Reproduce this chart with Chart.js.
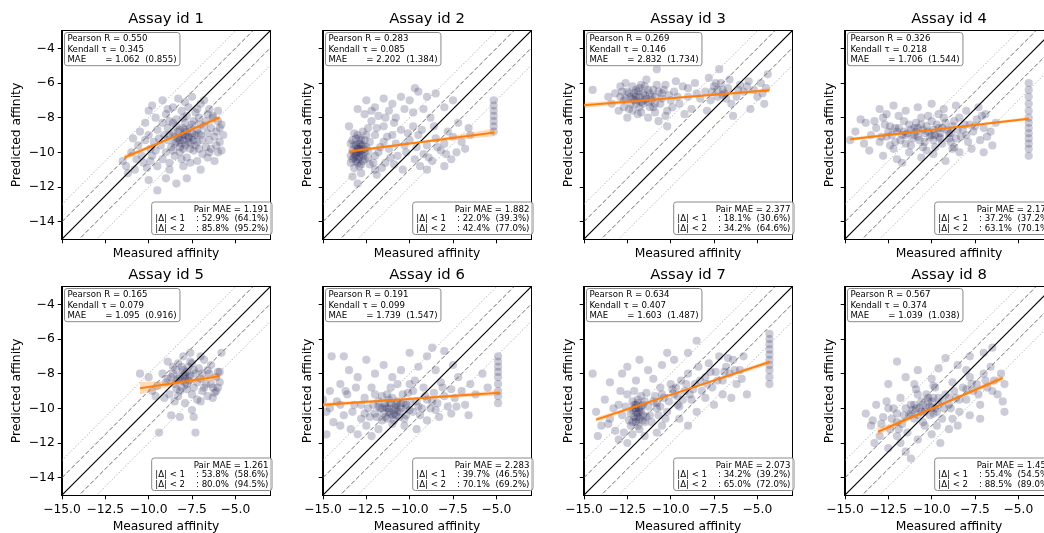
<!DOCTYPE html>
<html>
<head>
<meta charset="utf-8">
<script src="https://cdn.jsdelivr.net/npm/chart.js@4.4.1/dist/chart.umd.min.js"></script>
<style>
html,body{margin:0;padding:0;background:#fff;overflow:hidden;width:1044px;height:533px;position:relative}
canvas.cell{position:absolute}
</style>
</head>
<body>
<script>
// ── data ─────────────────────────────────────────────
const assayIds=[1,2,3,4,5,6,7,8];
const pearsonR=[0.550,0.283,0.269,0.326,0.165,0.191,0.634,0.567];
const kendallT=[0.345,0.085,0.146,0.218,0.079,0.099,0.407,0.374];
const maeVal=[1.062,2.202,2.832,1.706,1.095,1.739,1.603,1.039];
const maeAlt=[0.855,1.384,1.734,1.544,0.916,1.547,1.487,1.038];
const pairMae=[1.191,1.882,2.377,2.174,1.261,2.283,2.073,1.454];
const within1=[52.9,22.0,18.1,37.2,53.8,39.7,34.2,55.4];
const within1Alt=[64.1,39.3,30.6,37.2,58.6,46.5,39.2,54.5];
const within2=[85.8,42.4,34.2,63.1,80.0,70.1,65.0,88.5];
const within2Alt=[95.2,77.0,64.6,70.1,94.5,69.2,72.0,89.0];

const xTicks=[-15,-12.5,-10,-7.5,-5];
const yTicks=[-14,-12,-10,-8,-6,-4];
const axMin=-15, axMax=-3;
const diagX=[-15,-3];
const diagOffsets=[-2,-1,0,1,2];

// regression fit ends and confidence half-width (start, middle, end)
const regX=[[-11.4,-5.9],[-13.5,-5.1],[-15,-4.3],[-14.7,-4.4],[-10.5,-5.9],[-15,-4.8],[-14.3,-4.3],[-13.1,-5.9]];
const regY=[[-10.3,-8.0],[-9.95,-8.85],[-7.28,-6.42],[-9.25,-8.06],[-8.84,-8.15],[-9.8,-9.1],[-10.65,-7.33],[-11.35,-8.25]];
const bandW=[[0.16,0.05,0.16],[0.12,0.05,0.22],[0.16,0.05,0.12],[0.1,0.04,0.1],[0.36,0.1,0.2],[0.12,0.04,0.16],[0.14,0.04,0.14],[0.2,0.05,0.18]];

const pts1=[[-8.0,-9.0],[-7.8,-8.8],[-8.3,-9.2],[-7.5,-9.1],[-8.6,-8.9],[-7.2,-8.7],[-8.1,-9.5],[-7.7,-9.4],[-8.9,-9.3],[-7.0,-9.0],
[-8.4,-8.5],[-7.9,-8.3],[-6.8,-8.5],[-7.4,-8.2],[-8.7,-9.7],[-7.6,-9.8],[-8.2,-10.0],[-7.3,-9.6],[-6.9,-9.3],[-9.1,-9.0],
[-6.6,-8.9],[-8.0,-8.0],[-7.1,-8.0],[-9.3,-9.6],[-8.5,-10.2],[-7.8,-10.3],[-6.7,-9.7],[-6.4,-8.6],[-6.2,-9.1],[-9.5,-8.7],
[-9.2,-7.0],[-8.6,-7.4],[-7.5,-6.8],[-7.0,-7.2],[-6.5,-7.5],[-8.1,-7.6],[-9.0,-7.8],[-7.7,-7.4],[-6.3,-7.9],[-6.0,-8.2],
[-8.8,-8.2],[-9.6,-8.0],[-10.0,-7.6],[-6.8,-7.0],[-5.9,-8.6],[-7.3,-7.7],[-10.2,-8.3],
[-9.8,-10.2],[-10.3,-10.6],[-9.5,-10.8],[-8.8,-11.0],[-8.0,-10.8],[-7.2,-10.5],[-6.6,-10.3],[-6.0,-10.0],[-9.0,-11.5],
[-9.5,-12.2],[-7.8,-11.5],[-10.8,-11.0],[-11.2,-11.2],[-8.4,-11.8],[-10.0,-11.6],[-7.0,-11.0],[-9.2,-10.4],
[-11.5,-10.5],[-11.0,-10.0],[-10.6,-9.6],[-10.9,-9.2],[-10.4,-10.2],[-11.3,-10.8],[-10.2,-9.3],[-10.5,-8.8],[-9.9,-9.8],[-10.1,-10.9],
[-5.8,-8.4],[-5.7,-9.0],[-6.1,-9.6],[-6.3,-8.0],[-5.9,-9.4],[-6.0,-7.6],[-6.5,-10.0],[-6.2,-10.5],
[-8.1,-9.1],[-7.6,-8.6],[-8.4,-9.4],[-7.9,-9.0],[-8.8,-9.0],[-7.4,-9.3],[-8.2,-8.7],[-7.9,-9.6],
[-8.5,-9.1],[-8.0,-9.3],[-7.5,-8.9],[-7.2,-9.4],[-8.3,-8.8],[-7.7,-9.1],[-8.9,-8.6],[-7.0,-8.4],[-6.7,-8.2],[-8.6,-9.9],
[-7.4,-9.9],[-8.1,-10.4],[-9.0,-10.0],[-9.4,-9.2],[-6.5,-9.3],[-7.8,-7.9],[-8.4,-8.1],[-7.2,-7.5],[-9.7,-9.4],[-6.9,-10.1],
[-8.9,-7.5],[-7.5,-8.4],[-8.6,-8.3],[-8.0,-8.6],[-6.4,-9.8],[-9.2,-8.3],[-7.6,-10.6],[-8.8,-10.6],[-9.9,-10.5],[-6.1,-8.8],
[-7.1,-9.8],[-8.2,-9.7],[-9.6,-9.9],[-10.7,-10.4],[-10.0,-9.0],[-5.8,-9.9],[-6.6,-7.8],[-7.9,-7.1],[-8.3,-6.9],[-9.8,-7.3],
[-7.7,-9.2],[-8.2,-9.3],[-7.3,-9.0],[-7.9,-8.7],[-8.5,-9.5],[-7.6,-9.5],[-8.0,-9.8],[-7.1,-8.9]];
const pts2=[[-13.0,-9.8],[-12.8,-10.1],[-13.2,-10.3],[-12.9,-9.5],[-12.6,-10.0],[-13.3,-9.9],[-12.7,-10.5],[-13.1,-9.2],[-12.5,-9.7],[-13.4,-10.6],
[-12.9,-10.8],[-12.4,-10.3],[-13.0,-9.0],[-12.6,-9.3],[-13.2,-10.9],[-12.8,-11.2],[-13.4,-9.5],[-12.3,-10.7],[-12.7,-8.8],[-13.0,-10.0],
[-12.8,-9.9],[-13.1,-10.5],
[-13.5,-8.5],[-13.3,-11.4],[-12.0,-9.0],[-11.8,-10.0],[-12.1,-10.6],[-11.5,-9.4],[-11.9,-11.3],[-13.0,-11.8],[-12.2,-8.2],
[-13.0,-7.5],[-12.5,-7.0],[-12.0,-7.4],[-11.5,-6.9],[-11.0,-7.2],[-10.5,-6.8],[-10.0,-7.0],[-9.5,-6.5],[-9.0,-6.8],[-8.5,-6.6],
[-11.8,-7.9],[-10.8,-8.0],[-9.8,-7.7],[-9.2,-7.5],[-8.8,-8.0],[-12.6,-7.8],[-8.0,-7.4],[-7.5,-7.0],[-9.7,-6.3],[-11.2,-7.6],
[-11.5,-8.5],[-11.0,-9.0],[-10.5,-8.7],[-10.0,-9.3],[-9.5,-9.0],[-9.0,-9.6],[-8.5,-9.2],[-8.0,-9.5],[-7.5,-9.1],[-11.2,-9.8],
[-10.7,-10.2],[-10.2,-10.0],[-9.7,-10.4],[-9.2,-10.1],[-8.7,-10.5],[-8.2,-9.9],[-11.4,-10.6],[-10.4,-11.0],[-9.0,-11.0],[-8.0,-10.8],
[-10.9,-8.3],[-9.8,-8.5],[-8.6,-8.5],[-7.8,-8.8],
[-7.0,-9.4],[-6.8,-9.8],[-7.3,-10.0],[-6.6,-8.6],[-7.2,-8.3],[-6.5,-9.0],[-7.6,-10.4],
[-5.15,-7.0],[-5.15,-7.3],[-5.15,-7.6],[-5.15,-7.9],[-5.15,-8.2],[-5.15,-8.5],[-5.15,-8.8],
[-13.1,-9.6],[-12.9,-10.3],[-12.7,-9.6],[-13.2,-10.1],[-12.8,-10.7],[-13.0,-10.4],[-12.6,-10.4],[-13.3,-9.3],[-12.5,-9.0],[-13.2,-8.9],
[-12.9,-9.2],[-12.4,-9.9],[-12.3,-9.4],[-12.0,-10.2],[-11.7,-9.7],[-11.6,-10.9],[-11.3,-9.1],[-11.1,-10.3],[-10.8,-9.5],[-10.3,-9.6],
[-10.1,-8.9],[-9.6,-9.7],[-9.3,-8.7],[-8.9,-10.3],[-8.4,-9.7],[-7.9,-10.1],[-11.9,-8.6],[-12.4,-8.6],[-13.4,-10.2],[-12.0,-11.0],
[-10.9,-10.7],[-9.4,-10.8],[-11.4,-8.0],[-10.3,-7.5],[-12.2,-7.6],
[-13.0,-9.7],[-12.8,-9.6],[-13.1,-10.0],[-12.9,-10.0],[-12.7,-10.2],[-13.2,-9.6],[-12.8,-9.3],[-13.0,-10.6],[-12.6,-9.8],[-13.3,-10.4],
[-12.9,-9.8],[-13.1,-10.2]];
const pts3=[[-14.5,-6.4],[-12.8,-6.5],[-12.6,-6.0],[-12.3,-6.8],[-12.0,-7.2],[-12.4,-7.5],[-11.8,-6.3],[-11.5,-7.0],[-11.2,-6.6],[-11.0,-7.4],
[-10.8,-6.1],[-10.5,-6.9],[-10.2,-7.6],[-12.1,-6.6],[-11.7,-7.7],[-11.3,-8.0],[-10.9,-6.8],[-10.6,-7.2],[-12.7,-7.0],[-12.2,-6.2],
[-11.9,-7.0],[-11.6,-6.6],[-11.1,-7.0],[-10.4,-6.4],[-10.0,-7.0],[-9.8,-6.5],[-9.5,-7.2],[-9.3,-6.2],[-9.0,-6.8],[-8.8,-7.5],
[-10.2,-8.5],[-10.7,-8.2],[-12.5,-8.0],[-13.0,-7.6],[-11.4,-5.8],[-10.8,-5.2],[-9.7,-5.9],[-12.9,-6.2],[-11.0,-6.4],[-11.8,-7.4],
[-10.3,-7.9],[-9.2,-7.8],[-12.3,-7.2],[-11.5,-6.2],[-12.0,-6.8],
[-8.0,-6.5],[-7.8,-5.7],[-7.5,-6.2],[-7.3,-6.8],[-7.1,-6.0],[-6.9,-6.6],[-6.7,-6.3],[-6.5,-7.2],[-7.7,-7.0],[-8.3,-6.9],
[-6.2,-6.8],[-6.0,-6.1],[-5.8,-6.5],[-5.5,-5.9],[-5.2,-6.4],[-5.0,-6.8],[-4.8,-6.0],[-4.5,-6.3],[-4.4,-5.5],[-4.6,-7.2],
[-5.4,-7.5],[-6.4,-7.9],[-7.9,-7.6],[-8.6,-6.0],[-6.6,-5.8],[-7.2,-5.2],
[-12.4,-6.6],[-12.1,-7.0],[-11.8,-6.8],[-11.6,-7.2],[-11.3,-6.4],[-11.1,-6.8],[-10.9,-7.2],[-10.7,-6.5],[-12.6,-6.9],[-12.0,-6.4],
[-11.4,-6.9],[-11.2,-7.4],[-12.2,-7.6],[-10.5,-6.6],[-10.1,-6.7],[-9.6,-6.8],[-9.9,-7.4],[-12.9,-6.8],[-13.2,-6.6],[-11.7,-6.1],
[-10.3,-6.1],[-9.0,-6.3],[-8.5,-6.6],[-7.6,-6.5],[-7.0,-6.4],[-6.8,-6.9],[-7.4,-6.0],[-5.6,-6.2],[-4.7,-6.6],[-6.1,-6.4],
[-12.7,-7.4],[-11.9,-7.8],[-10.9,-7.7],[-13.6,-6.8],[-13.4,-7.2],
[-12.2,-6.9],[-11.9,-6.5],[-11.5,-6.7],[-11.7,-7.1],[-12.5,-6.5],[-11.3,-7.1],[-7.3,-6.4],[-7.0,-6.7]];
const pts4=[[-14.7,-9.3],[-14.4,-8.8],[-13.8,-8.3],[-13.5,-9.0],[-13.2,-8.6],[-13.0,-9.4],[-12.8,-8.0],[-12.6,-9.1],[-12.4,-8.5],[-12.2,-9.8],
[-12.0,-8.8],[-11.8,-9.3],[-11.6,-8.2],[-11.4,-8.9],[-11.2,-9.6],[-11.0,-8.6],[-10.8,-9.1],[-10.6,-8.4],[-10.4,-9.4],[-10.2,-8.8],
[-10.0,-8.2],[-9.8,-9.0],[-9.6,-8.6],[-9.4,-9.5],[-9.2,-8.3],[-9.0,-8.9],[-8.8,-8.5],[-8.6,-9.2],[-8.4,-8.0],[-8.2,-8.7],
[-8.0,-9.0],[-7.8,-8.4],[-7.6,-8.8],[-7.4,-8.1],[-7.2,-9.3],[-7.0,-8.6],
[-13.0,-7.5],[-12.2,-7.3],[-11.5,-7.6],[-10.8,-7.4],[-10.0,-7.2],[-9.3,-7.5],[-8.6,-7.3],[-8.0,-7.6],[-7.3,-7.4],[-6.9,-7.8],
[-12.6,-7.8],[-9.6,-7.8],
[-13.6,-9.9],[-12.8,-10.2],[-12.0,-10.4],[-11.3,-10.0],[-10.6,-10.3],[-9.9,-10.1],[-9.2,-10.5],[-8.4,-10.0],[-7.7,-9.8],[-11.7,-10.6],
[-10.3,-9.9],[-8.8,-9.8],[-7.0,-10.0],[-6.5,-9.6],[-6.8,-9.1],[-6.3,-8.3],
[-11.0,-9.0],[-10.5,-8.7],[-9.5,-8.9],[-10.9,-8.3],[-11.5,-9.0],[-9.9,-9.3],[-12.3,-9.0],[-9.0,-9.2],[-8.5,-8.7],
[-4.4,-6.0],[-4.4,-6.4],[-4.4,-6.8],[-4.4,-7.2],[-4.4,-7.6],[-4.4,-8.0],[-4.4,-8.3],[-4.4,-8.6],[-4.4,-8.9],[-4.4,-9.2],
[-4.4,-9.5],[-4.4,-9.8],[-4.4,-10.2],
[-11.9,-8.6],[-11.7,-9.0],[-11.3,-8.4],[-11.1,-9.2],[-10.9,-8.8],[-10.7,-9.3],[-10.3,-8.5],[-10.1,-9.1],[-9.7,-8.4],[-9.5,-9.2],
[-9.1,-8.7],[-8.9,-9.4],[-8.7,-8.2],[-8.3,-9.1],[-8.1,-8.4],[-12.5,-8.8],[-12.9,-9.1],[-13.3,-8.2],[-12.1,-9.4],[-10.5,-9.7],
[-9.3,-8.0],[-7.9,-9.4],[-7.5,-8.5],[-12.7,-8.4],[-13.9,-9.5],[-14.1,-8.1],[-11.9,-7.9],[-10.2,-7.9],[-7.1,-7.9],[-9.8,-9.7],
[-12.4,-9.6],[-6.6,-8.8],[-11.5,-9.5],[-10.6,-8.0],[-8.7,-9.7],
[-11.2,-8.7],[-10.8,-8.6],[-10.4,-8.9],[-9.9,-8.7],[-9.4,-8.6],[-11.6,-8.8],[-12.1,-8.6],[-10.0,-9.0],[-9.6,-9.1],[-8.9,-8.9]];
const pts5=[[-10.5,-8.0],[-10.0,-8.2],[-9.6,-9.3],[-9.4,-11.4],[-9.0,-8.5],[-8.9,-7.3],[-8.8,-9.2],[-8.6,-8.0],[-8.5,-8.6],[-8.4,-7.8],
[-8.3,-8.3],[-8.2,-9.0],[-8.1,-7.6],[-8.0,-8.1],[-7.9,-8.5],[-7.8,-7.9],[-7.7,-8.4],[-7.6,-6.8],[-7.5,-7.4],[-7.4,-8.8],
[-7.3,-8.0],[-7.2,-9.5],[-7.1,-7.7],[-7.0,-8.3],[-6.9,-9.0],[-6.8,-7.2],[-6.7,-8.6],[-6.6,-9.3],[-6.5,-8.0],[-6.4,-7.5],
[-6.3,-8.8],[-6.2,-9.1],[-6.1,-8.2],[-6.0,-7.9],[-5.9,-8.5],[-5.8,-6.8],[-8.7,-10.4],[-8.2,-10.5],[-7.9,-9.7],[-7.4,-10.5],
[-7.3,-11.4],[-8.5,-9.6],[-8.0,-7.0],[-7.6,-7.3],[-8.3,-7.4],[-7.0,-7.0],[-9.2,-8.0],[-9.5,-8.7],[-8.9,-8.3],[-7.8,-8.9],
[-7.5,-9.2],[-6.8,-8.8],[-6.3,-9.4],[-6.0,-8.8],[-8.4,-8.9],[-7.7,-8.2],[-8.1,-8.4],[-7.9,-8.0],[-9.8,-9.0],[-6.6,-7.8],
[-8.2,-8.2],[-7.9,-8.3],[-8.0,-7.8],[-7.8,-8.6],[-8.4,-8.4],[-7.6,-8.1],[-8.6,-7.6],[-8.1,-8.8],[-7.4,-7.8],[-7.2,-8.5],
[-8.7,-8.2],[-7.7,-7.6],[-6.9,-8.0],[-8.3,-9.3],[-7.0,-9.6],[-6.4,-8.6],[-6.1,-9.0],[-5.9,-7.9],[-9.1,-9.4],[-7.5,-10.1]];
const pts6=[[-15.0,-9.5],[-14.8,-10.2],[-14.6,-9.0],[-14.4,-10.8],[-14.2,-9.6],[-14.0,-8.6],[-13.8,-10.4],[-13.6,-9.2],[-13.4,-11.2],[-13.2,-9.8],
[-13.0,-8.2],[-12.8,-10.6],[-12.6,-9.4],[-12.4,-10.0],[-12.2,-8.8],[-12.0,-10.3],[-11.8,-9.6],[-11.6,-10.7],[-11.4,-9.9],[-11.2,-10.2],
[-11.0,-9.4],[-10.8,-10.0],[-10.6,-10.5],[-10.4,-9.2],[-10.2,-9.8],[-10.0,-10.1],[-9.8,-9.0],[-9.6,-9.6],[-9.4,-10.4],[-9.2,-8.8],
[-9.0,-9.5],[-8.8,-10.0],[-8.6,-9.1],[-8.4,-9.7],[-8.2,-8.5],[-8.0,-9.3],[-7.8,-9.9],[-7.6,-8.9],[-7.4,-9.4],[-7.2,-8.2],
[-7.0,-9.0],[-6.8,-9.8],[-6.5,-8.6],[-6.2,-9.2],[-5.8,-8.0],[-5.5,-8.8],
[-14.5,-7.0],[-13.5,-7.8],[-12.5,-7.2],[-12.0,-8.0],[-11.5,-7.5],[-11.0,-8.2],[-10.5,-7.8],[-10.0,-8.6],[-9.5,-7.6],[-9.0,-7.0],
[-8.5,-7.8],[-8.0,-6.7],[-7.5,-7.5],[-13.8,-7.0],[-10.0,-6.8],[-8.7,-6.5],
[-14.8,-11.5],[-14.0,-11.0],[-13.0,-11.5],[-12.5,-11.0],[-11.8,-11.2],[-11.0,-10.9],[-10.3,-11.0],[-9.6,-11.2],[-9.0,-10.7],[-8.3,-10.5],
[-7.6,-10.3],[-12.2,-11.6],[-6.6,-10.4],
[-11.3,-10.0],[-10.9,-10.3],[-11.1,-9.7],[-10.7,-9.6],[-11.5,-10.3],[-10.5,-10.0],[-11.8,-9.9],[-10.2,-10.4],
[-4.9,-7.0],[-4.9,-7.3],[-4.9,-7.6],[-4.9,-7.9],[-4.9,-8.2],[-4.9,-8.6],[-4.9,-9.0],[-4.9,-9.3],[-4.9,-9.7],
[-11.7,-10.0],[-11.4,-10.5],[-11.2,-9.5],[-11.0,-10.4],[-10.8,-9.8],[-10.6,-10.2],[-10.4,-9.7],[-10.0,-9.6],[-11.9,-10.5],[-11.6,-9.3],
[-12.1,-9.8],[-12.3,-10.5],[-10.9,-10.7],[-10.3,-10.6],[-9.8,-10.2],[-9.5,-9.9],[-9.1,-9.3],[-8.7,-9.6],[-12.8,-9.8],[-13.3,-10.2],
[-14.0,-9.8],[-14.6,-10.0],[-11.3,-9.2],[-10.1,-9.1],[-9.3,-10.0],[-8.5,-10.1],[-12.6,-10.3],[-13.7,-9.0],[-8.1,-8.8],[-7.3,-9.9],
[-12.0,-9.2],[-11.1,-8.8],[-10.7,-8.6],[-9.7,-8.4],[-13.1,-8.8],
[-11.2,-10.0],[-10.9,-9.9],[-11.4,-9.7],[-10.7,-10.1],[-11.1,-10.3],[-10.5,-9.7],[-11.6,-10.0],[-10.8,-10.4],[-11.3,-10.6],[-10.2,-10.0]];
const pts7=[[-14.3,-10.2],[-14.0,-11.0],[-13.8,-9.5],[-13.5,-10.6],[-13.2,-11.3],[-13.0,-9.8],[-12.8,-10.4],[-12.5,-9.2],[-12.3,-11.0],[-12.1,-10.0],
[-12.0,-10.6],[-11.9,-9.5],[-11.8,-11.2],[-11.7,-10.2],[-11.6,-9.8],[-11.5,-10.8],[-11.4,-9.1],[-11.2,-10.4],[-11.0,-9.6],[-10.8,-10.0],
[-10.6,-8.8],[-10.4,-9.4],[-10.2,-10.2],[-10.0,-8.6],[-9.8,-9.2],[-9.6,-9.8],[-9.4,-8.4],[-9.2,-9.0],[-9.0,-8.0],[-8.8,-9.5],
[-8.6,-8.6],[-8.4,-7.6],[-8.2,-9.0],[-8.0,-8.2],[-7.8,-7.4],[-7.6,-8.8],[-7.4,-7.9],[-7.2,-7.0],[-7.0,-8.4],[-6.8,-7.6],
[-6.6,-8.0],[-6.4,-7.2],[-6.2,-8.6],[-6.0,-7.8],[-5.8,-7.0],[-5.6,-9.2],
[-13.5,-8.5],[-12.8,-8.0],[-12.0,-8.4],[-11.3,-7.8],[-10.5,-7.5],[-9.8,-7.2],[-9.0,-6.8],[-8.5,-6.1],[-11.8,-7.2],[-10.2,-6.8],
[-12.5,-7.6],[-14.5,-8.0],
[-14.2,-11.6],[-13.0,-11.8],[-12.5,-12.0],[-11.5,-11.6],[-10.5,-11.0],[-9.5,-10.6],[-8.5,-10.2],[-7.5,-9.8],[-10.8,-11.4],[-9.0,-11.0],
[-12.2,-11.5],[-6.5,-9.4],[-7.0,-9.2],
[-12.0,-9.8],[-11.9,-10.3],[-12.2,-10.8],[-11.7,-9.3],[-12.1,-9.0],[-11.8,-10.0],[-11.4,-10.5],[-10.9,-9.3],[-10.6,-9.9],[-9.9,-8.9],
[-9.3,-9.5],[-8.7,-8.9],
[-4.3,-5.7],[-4.3,-6.0],[-4.3,-6.3],[-4.3,-6.6],[-4.3,-6.9],[-4.3,-7.2],[-4.3,-7.5],[-4.3,-7.8],[-4.3,-8.2],[-4.3,-8.6],
[-12.0,-10.2],[-11.9,-9.7],[-12.1,-10.5],[-11.8,-10.6],[-12.3,-10.3],[-11.6,-10.4],[-12.2,-9.6],[-11.9,-11.0],[-11.5,-9.6],[-12.4,-10.7],
[-11.3,-9.9],[-11.1,-10.8],[-10.7,-10.4],[-10.5,-9.2],[-10.1,-9.6],[-9.7,-8.8],[-9.1,-8.6],[-8.9,-9.2],[-8.3,-8.4],[-7.9,-8.6],
[-7.3,-8.4],[-6.9,-7.9],[-6.3,-7.8],[-5.9,-8.3],[-13.3,-10.0],[-13.6,-10.9],[-12.7,-11.4],[-12.6,-9.9],[-10.3,-10.6],[-9.5,-9.9],
[-8.0,-9.4],[-7.7,-7.9],[-6.7,-7.1],[-11.0,-8.3],[-12.9,-9.0],
[-12.0,-10.0],[-11.9,-10.5],[-12.1,-9.8],[-11.8,-10.2],[-12.0,-10.8],[-11.7,-9.9],[-12.2,-10.1],[-11.6,-10.7],[-10.8,-9.7],[-9.6,-9.3]];
const pts8=[[-13.8,-10.3],[-13.5,-11.0],[-13.2,-9.8],[-13.0,-11.6],[-12.8,-10.5],[-12.6,-9.6],[-12.4,-11.2],[-12.2,-10.0],[-12.0,-10.8],[-11.8,-9.4],
[-11.6,-10.4],[-11.4,-11.4],[-11.2,-9.8],[-11.0,-10.6],[-10.8,-9.2],[-10.6,-10.2],[-10.4,-11.0],[-10.2,-9.6],[-10.0,-10.0],[-9.8,-8.8],
[-9.6,-9.8],[-9.4,-10.6],[-9.2,-9.2],[-9.0,-9.8],[-8.8,-8.5],[-8.6,-9.4],[-8.4,-10.2],[-8.2,-8.8],[-8.0,-9.5],[-7.8,-8.2],
[-7.6,-9.0],[-7.4,-8.6],[-7.2,-9.8],[-7.0,-8.0],[-6.8,-8.8],[-6.6,-7.6],[-6.4,-8.4],[-6.2,-9.2],[-6.0,-8.0],[-5.8,-8.6],
[-5.8,-10.2],[-5.9,-9.6],
[-12.0,-7.3],[-11.5,-8.2],[-10.8,-7.8],[-10.0,-8.3],[-9.2,-7.1],[-8.5,-7.5],[-7.8,-7.0],[-7.0,-6.8],[-6.5,-6.5],[-9.6,-7.7],
[-11.0,-8.6],[-12.5,-8.6],[-8.0,-7.8],
[-13.3,-12.0],[-12.5,-12.3],[-11.8,-12.0],[-11.2,-12.9],[-10.8,-11.8],[-10.0,-11.5],[-9.5,-12.0],[-9.0,-11.2],[-8.5,-11.0],[-12.0,-11.6],
[-11.5,-12.5],[-7.8,-10.4],[-7.2,-10.6],[-8.8,-10.6],
[-10.5,-9.8],[-10.1,-10.4],[-9.7,-10.2],[-10.9,-10.0],[-9.9,-9.4],[-11.3,-10.4],[-10.3,-9.2],[-9.4,-9.6],
[-10.3,-10.0],[-10.0,-9.6],[-9.8,-10.0],[-10.6,-9.6],[-10.8,-10.4],[-11.0,-9.8],[-11.2,-10.3],[-9.6,-9.4],[-9.3,-10.0],[-9.0,-9.4],
[-11.5,-10.0],[-11.7,-10.9],[-12.0,-10.3],[-12.3,-10.6],[-12.5,-10.0],[-12.9,-10.9],[-8.7,-9.0],[-8.4,-9.5],[-8.0,-8.9],[-7.7,-8.6],
[-7.3,-9.2],[-6.9,-8.4],[-6.5,-9.0],[-10.5,-10.8],[-9.7,-11.0],[-11.9,-11.2],[-10.9,-8.9],[-9.9,-8.7],[-8.9,-10.0],[-13.4,-10.7],
[-10.4,-10.2],[-10.1,-9.9],[-10.7,-10.0],[-9.9,-10.3],[-11.1,-10.1],[-10.2,-9.4]];
const scatterPts=[pts1,pts2,pts3,pts4,pts5,pts6,pts7,pts8];

// ── layout / style ───────────────────────────────────
const plotLeft=[62,323,584,845], plotTop=[31,287], PLOT=208;
const YW=62, XH=45, PADR=12;
const F="'DejaVu Sans', sans-serif";
const C={pt:'rgba(36,36,88,0.23)',orange:'#ff7f0e',band:'rgba(255,127,14,0.28)',dash:'#6e6e6e',dot:'#a8a8a8'};

function minus(v,d){return (v<0?'\u2212':'')+Math.abs(v).toFixed(d);}

const panelText={
  id:'panelText',
  afterDraw(chart,args,o){
    const i=o.idx, a=chart.chartArea, ctx=chart.ctx;
    ctx.save();
    // frame (top/right spines)
    ctx.strokeStyle='#000'; ctx.lineWidth=1;
    ctx.strokeRect(Math.round(a.left)-0.5,Math.round(a.top)-0.5,Math.round(a.right-a.left)+1,Math.round(a.bottom-a.top)+1);
    // title
    ctx.fillStyle='#000'; ctx.font='14.8px '+F; ctx.textAlign='center'; ctx.textBaseline='alphabetic';
    ctx.fillText('Assay id '+assayIds[i],(a.left+a.right)/2,a.top-8.5);
    // boxes
    ctx.font='8.6px '+F; ctx.textBaseline='middle';
    const tl=['Pearson R = '+pearsonR[i].toFixed(3),'Kendall \u03c4 = '+kendallT[i].toFixed(3),
      'MAE       = '+maeVal[i].toFixed(3)+'  ('+maeAlt[i].toFixed(3)+')'];
    const br=['Pair MAE = '+pairMae[i].toFixed(3),
      '|\u0394| < 1    : '+within1[i].toFixed(1)+'%  ('+within1Alt[i].toFixed(1)+'%)',
      '|\u0394| < 2    : '+within2[i].toFixed(1)+'%  ('+within2Alt[i].toFixed(1)+'%)'];
    const box=(x0,y0,x1,y1)=>{
      ctx.beginPath(); ctx.roundRect(x0,y0,x1-x0,y1-y0,2.6);
      ctx.fillStyle='rgba(255,255,255,0.8)'; ctx.fill();
      ctx.strokeStyle='#8a8a8a'; ctx.lineWidth=1; ctx.stroke();
    };
    const tx=a.left+5.4, tw=Math.max(...tl.map(s=>ctx.measureText(s).width));
    box(a.left+2.5,a.top+1.5,tx+tw+3.4,a.top+34.7);
    ctx.fillStyle='#000'; ctx.textAlign='left';
    tl.forEach((s,k)=>ctx.fillText(s,tx,a.top+8.2+k*10.1));
    const rx=a.right-1.6, bw=Math.max(...br.map(s=>ctx.measureText(s).width));
    box(rx-bw-3.6,a.bottom-37,rx+3.6,a.bottom-4.5);
    ctx.fillStyle='#000'; ctx.textAlign='right';
    br.forEach((s,k)=>ctx.fillText(s,rx,a.bottom-29.6+k*9.8));
    ctx.restore();
  }
};

function makePanel(i){
  const row=Math.floor(i/4), col=i%4;
  const cv=document.createElement('canvas');
  cv.className='cell';
  cv.width=YW+PLOT+PADR; cv.height=31+PLOT+XH;
  cv.style.left=(plotLeft[col]-YW)+'px'; cv.style.top=(plotTop[row]-31)+'px';
  document.body.appendChild(cv);

  const [x0,x1]=regX[i], [y0,y1]=regY[i], w=bandW[i];
  const xm=(x0+x1)/2, ym=(y0+y1)/2;
  const lineBase={showLine:true,pointRadius:0,fill:false};
  const ds=[
    {...lineBase,data:[{x:x0,y:y0},{x:x1,y:y1}],borderColor:C.orange,borderWidth:2,order:0},
    {...lineBase,data:[{x:x0,y:y0+w[0]},{x:xm,y:ym+w[1]},{x:x1,y:y1+w[2]}],borderWidth:0,borderColor:'rgba(0,0,0,0)',
      backgroundColor:C.band,fill:'+1',order:1},
    {...lineBase,data:[{x:x0,y:y0-w[0]},{x:xm,y:ym-w[1]},{x:x1,y:y1-w[2]}],borderWidth:0,borderColor:'rgba(0,0,0,0)',order:1},
  ];
  diagOffsets.forEach(off=>{
    const a=Math.abs(off);
    ds.push({...lineBase,data:diagX.map(x=>({x,y:x+off})),
      borderColor:a===0?'#000':a===1?C.dash:C.dot,borderWidth:a===0?1.2:1,
      borderDash:a===0?[]:a===1?[4.5,2.2]:[1.2,2],order:2+a});
  });
  ds.push({data:scatterPts[i].map(([x,y])=>({x,y})),pointRadius:4.1,pointBackgroundColor:C.pt,
    pointBorderWidth:0,showLine:false,order:6});

  const axis=(title,ticks,dec,showLbl,pad)=>({
    type:'linear',min:axMin,max:axMax,
    afterBuildTicks:s=>{s.ticks=ticks.map(v=>({value:v}));},
    ticks:{display:showLbl,font:{family:F,size:12.3},color:'#000',padding:3,maxRotation:0,autoSkip:false,
      callback:v=>minus(v,dec)},
    grid:{display:true,drawOnChartArea:false,drawTicks:true,tickLength:4.3,color:'#000',lineWidth:1},
    border:{display:true,color:'#000',width:1},
    title:{display:true,text:title,font:{family:F,size:12.3},color:'#000',padding:pad}
  });

  new Chart(cv,{
    type:'scatter',
    data:{datasets:ds},
    options:{
      responsive:false,animation:false,events:[],
      layout:{padding:{left:0,right:PADR,top:31,bottom:0}},
      plugins:{legend:{display:false},tooltip:{enabled:false},panelText:{idx:i}},
      scales:{
        x:{...axis('Measured affinity',xTicks,1,row===1,{top:0,bottom:row?5.6:22.6}),afterFit:s=>{s.height=XH;}},
        y:{...axis('Predicted affinity',yTicks,0,col===0,{top:col?39.6:9.3,bottom:0}),afterFit:s=>{s.width=YW;}}
      }
    },
    plugins:[panelText]
  });
}

assayIds.forEach((_,i)=>makePanel(i));
</script>
</body>
</html>
